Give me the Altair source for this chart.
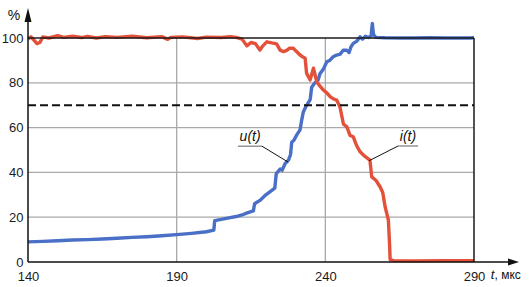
import altair as alt
import pandas as pd

# ---- data ----
u_t = [140, 145, 150, 155, 160, 165, 170, 175, 180, 185, 190, 195, 200, 202.5, 202.8, 205, 208, 210, 212,
       213.5, 215, 215.8, 216.2, 218, 220, 222, 223, 223.5, 224.8, 225.5, 226.5, 227.6, 228.3, 228.7, 229.5,
       230.5, 231.5, 232.0, 232.6, 233.5, 234.9, 235.4, 236.5, 237.5, 238.2, 239.3, 240.5, 241.5, 242.5,
       243.8, 245, 246, 247.2, 248, 248.6, 249.4, 250.5, 251.7, 252.5, 253.5, 254.5, 255.4, 255.8, 256.2,
       257, 260, 265, 270, 275, 280, 285, 289, 290]
u_v = [9.0, 9.2, 9.5, 9.8, 10.0, 10.3, 10.6, 11.0, 11.3, 11.7, 12.2, 12.8, 13.5, 14.2, 18.5, 19.0, 19.8, 20.3,
       21.0, 21.8, 22.5, 22.8, 26.0, 27.5, 30.0, 32.0, 33.0, 39.5, 41.5, 41.0, 44.0, 45.5, 48.0, 53.5, 54.5,
       57.0, 59.0, 63.0, 67.0, 69.5, 72.5, 78.0, 80.0, 81.0, 84.0, 86.0, 89.4, 90.0, 91.5, 92.4, 92.8, 94.5,
       94.6, 93.5, 96.0, 97.6, 98.5, 100.5, 99.5, 100.8, 100.2, 101.0, 106.5, 101.5, 100.3, 100.1, 100.0,
       100.0, 100.1, 100.0, 100.0, 100.0, 100.2]

i_t = [140, 141, 142, 143, 144, 145, 147, 150, 152, 155, 158, 160, 163, 166, 170, 175, 180, 185, 187, 188,
       192, 197, 200, 205, 208, 210, 212, 213.6, 215, 216.5, 218, 219, 220.3, 222, 223.6, 224.8, 225.9, 227,
       228, 229.2, 230.3, 231.5, 232.5, 233.2, 233.7, 234.9, 236, 237.1, 238.2, 239.3, 240.5, 241.6, 242.7,
       243.8, 244.9, 246.1, 247.2, 248.3, 249.4, 250.5, 251.7, 253, 254, 255, 255.6, 257, 258.4, 259.3,
       260.1, 261.2, 261.6, 261.8, 263, 270, 280, 290]
i_v = [99.5, 100.5, 99.0, 97.5, 98.0, 100.5, 100.0, 101.0, 100.3, 100.8, 100.2, 100.7, 100.0, 100.6, 100.3,
       100.8, 100.1, 100.6, 99.4, 100.3, 100.5, 99.8, 100.4, 100.2, 100.6, 100.3, 99.5, 96.5, 98.0, 97.5,
       94.6, 96.5, 98.3, 97.8, 97.4, 94.6, 93.9, 94.5, 95.5, 95.4, 94.0, 92.4, 91.5, 91.0, 84.2, 81.3, 86.5,
       80.5, 78.5, 76.8, 75.5, 73.8, 72.8, 72.3, 69.3, 61.5, 60.4, 56.5, 55.9, 52.0, 49.2, 47.5, 46.5, 45.5,
       38.0, 36.5, 33.6, 31.0, 24.7, 18.75, 8.0, 1.0, 0.6, 0.5, 0.6, 0.6]

x_ticks = [140, 190, 240, 290]
y_ticks = [0, 20, 40, 60, 80, 100]
grid_y = [20, 40, 60, 80]
grid_x = [190, 240]
ref_level = 70
t_min, t_max = 140, 290
x_dom = [140, 305]
y_dom = [0, 115]
x_axis_end = 302
y_axis_end = 108

# annotation anchors (data units)
lab_text = ["u(t)", "i(t)"]
lab_x = [214.7, 267.8]
lab_y = [55.8, 55.8]
ul_x1 = [210.6, 264.5]
ul_x2 = [218.7, 271.2]
ul_y = [51.7, 51.8]
ld_x1 = [218.7, 264.5]
ld_y1 = [51.7, 51.8]
ld_x2 = [227.5, 254.7]
ld_y2 = [44.6, 45.2]

BLUE = "#4a6fc6"
RED = "#e4513a"
GRID = "#a9a9a9"
FONT = "Liberation Sans"

xs = alt.Scale(domain=x_dom, nice=False, zero=False)
ys = alt.Scale(domain=y_dom, nice=False, zero=False)

df_u = pd.DataFrame({"t": u_t, "v": u_v})
df_i = pd.DataFrame({"t": i_t, "v": i_v})

x_axis = alt.Axis(values=x_ticks, title=None, domain=False, ticks=False, grid=False,
                  labelFont=FONT, labelFontSize=13, labelColor="#1a1a1a", labelPadding=8,
                  labelFlush=False, labelOverlap=False)
y_axis = alt.Axis(values=y_ticks, title=None, domain=False, ticks=False, grid=False,
                  labelFont=FONT, labelFontSize=13, labelColor="#1a1a1a", labelPadding=5,
                  labelOverlap=False)

# gray grid
grid_h = pd.DataFrame({"x": [t_min] * len(grid_y), "x2": [t_max] * len(grid_y), "y": grid_y, "y2": grid_y})
grid_v = pd.DataFrame({"x": grid_x, "x2": grid_x, "y": [0] * len(grid_x), "y2": [100] * len(grid_x)})
grid_df = pd.concat([grid_h, grid_v])

def seg_layer(df, color, width, dash=None):
    kw = dict(color=color, strokeWidth=width)
    if dash is not None:
        kw["strokeDash"] = dash
    return alt.Chart(df).mark_rule(**kw).encode(
        x=alt.X("x:Q", scale=xs, axis=x_axis), x2="x2:Q",
        y=alt.Y("y:Q", scale=ys, axis=y_axis), y2="y2:Q")

grid = seg_layer(grid_df, GRID, 1.3)

line_u = alt.Chart(df_u).mark_line(color=BLUE, strokeWidth=3.4, strokeJoin="round").encode(
    x=alt.X("t:Q", scale=xs, axis=x_axis), y=alt.Y("v:Q", scale=ys, axis=y_axis))
line_i = alt.Chart(df_i).mark_line(color=RED, strokeWidth=3.4, strokeJoin="round").encode(
    x=alt.X("t:Q", scale=xs, axis=x_axis), y=alt.Y("v:Q", scale=ys, axis=y_axis))

frame_df = pd.DataFrame({"x": [t_min, t_max], "x2": [t_max, t_max], "y": [100, 0], "y2": [100, 100]})
frame = seg_layer(frame_df, "#1a1a1a", 1.5)

dash_df = pd.DataFrame({"x": [t_min], "x2": [t_max], "y": [ref_level], "y2": [ref_level]})
dashed = seg_layer(dash_df, "#111111", 2, dash=[8, 4])

axes_df = pd.DataFrame({"x": [t_min, t_min], "x2": [x_axis_end, t_min], "y": [0, 0], "y2": [0, y_axis_end]})
axes = seg_layer(axes_df, "#111111", 1.5)

arrow_up = alt.Chart(pd.DataFrame({"x": [t_min], "y": [110.3]})).mark_point(
    shape="M0,-1L0.5,1L-0.5,1Z", filled=True, color="#111111", opacity=1, size=196, strokeWidth=0).encode(
    x=alt.X("x:Q", scale=xs), y=alt.Y("y:Q", scale=ys))
arrow_right = alt.Chart(pd.DataFrame({"x": [303.3], "y": [0]})).mark_point(
    shape="M1,0L-1,0.64L-1,-0.64Z", filled=True, color="#111111", opacity=1, size=121, strokeWidth=0).encode(
    x=alt.X("x:Q", scale=xs), y=alt.Y("y:Q", scale=ys))

# annotations
lab_df = pd.DataFrame({"x": lab_x, "y": lab_y, "txt": lab_text})
labels = alt.Chart(lab_df).mark_text(font=FONT, fontSize=14, fontStyle="italic", color="#111111",
                                     baseline="middle", align="center").encode(
    x=alt.X("x:Q", scale=xs), y=alt.Y("y:Q", scale=ys), text="txt:N")
ul_df = pd.DataFrame({"x": ul_x1, "x2": ul_x2, "y": ul_y, "y2": ul_y})
underlines = seg_layer(ul_df, "#7a7a7a", 1.2)
ld_df = pd.DataFrame({"x": ld_x1, "x2": ld_x2, "y": ld_y1, "y2": ld_y2})
leaders = alt.Chart(ld_df).mark_rule(color="#111111", strokeWidth=1).encode(
    x=alt.X("x:Q", scale=xs), x2="x2:Q", y=alt.Y("y:Q", scale=ys), y2="y2:Q")

pct = alt.Chart(pd.DataFrame({"x": [135.3], "y": [110.0], "txt": ["%"]})).mark_text(
    font=FONT, fontSize=14, color="#111111", align="center", baseline="middle").encode(
    x=alt.X("x:Q", scale=xs), y=alt.Y("y:Q", scale=ys), text="txt:N")
t_lab = alt.Chart(pd.DataFrame({"x": [295.6], "y": [-5.8], "txt": ["t"]})).mark_text(
    font=FONT, fontSize=13, fontStyle="italic", color="#111111", align="left", baseline="middle").encode(
    x=alt.X("x:Q", scale=xs), y=alt.Y("y:Q", scale=ys), text="txt:N")
unit_lab = alt.Chart(pd.DataFrame({"x": [296.9], "y": [-5.8], "txt": [", мкс"]})).mark_text(
    font=FONT, fontSize=12, color="#111111", align="left", baseline="middle").encode(
    x=alt.X("x:Q", scale=xs), y=alt.Y("y:Q", scale=ys), text="txt:N")

chart = alt.layer(grid, line_u, line_i, frame, dashed, axes, arrow_up, arrow_right,
                  underlines, leaders, labels, pct, t_lab, unit_lab).properties(
    width=490.6, height=257.6,
    autosize=alt.AutoSizeParams(type="none"),
    padding={"left": 28, "top": 4.4, "right": 10.4, "bottom": 25},
    background="white",
).configure_view(stroke=None)

chart.save("out.html", embed_options={"renderer": "svg", "actions": False})
